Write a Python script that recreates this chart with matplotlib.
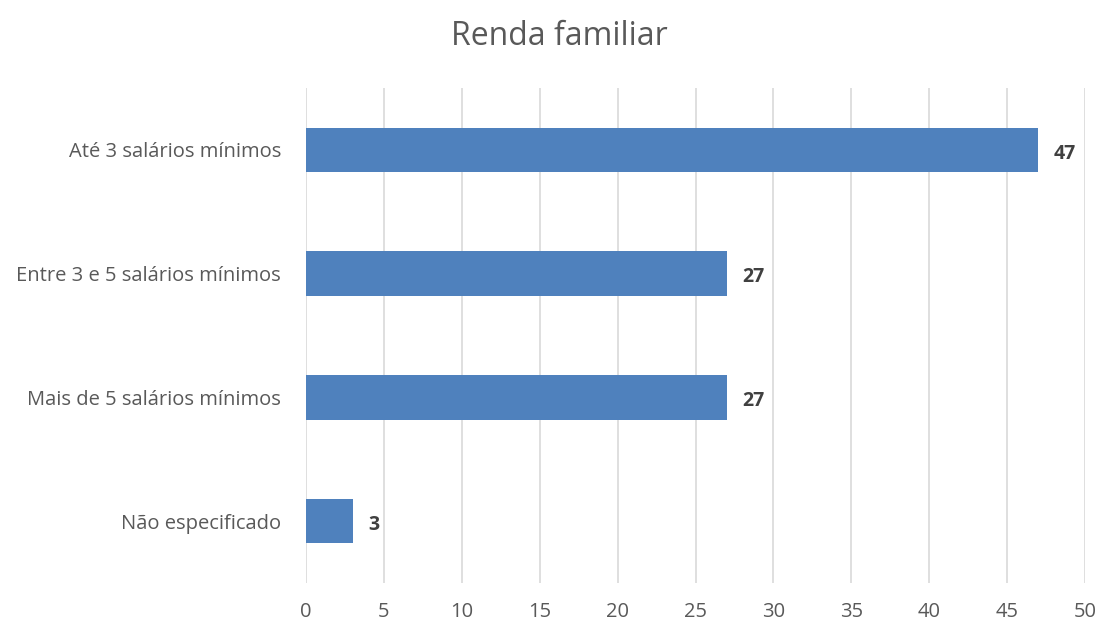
import matplotlib
matplotlib.use("Agg")
import matplotlib.pyplot as plt

categories = ["Até 3 salários mínimos", "Entre 3 e 5 salários mínimos",
              "Mais de 5 salários mínimos", "Não especificado"]
values = [47, 27, 27, 3]
xticks = [0, 5, 10, 15, 20, 25, 30, 35, 40, 45, 50]

plt.rcParams['font.family'] = ['Open Sans', 'DejaVu Sans']
txt = '#595959'

fig = plt.figure(figsize=(10.99, 6.28), dpi=100)
ax = fig.add_axes([0.2784, 0.0717, 0.7089, 0.7882])

ypos = list(range(len(categories)))
ax.barh(ypos, values, height=0.36, color='#4F81BD', zorder=3)
for y, v in zip(ypos, values):
    ax.text(v + 1.0, y + 0.03, str(v), va='center', ha='left', fontsize=14,
            fontweight='bold', color='#404040')

ax.set_yticks(ypos)
ax.set_yticklabels(categories, fontsize=14.5, color=txt)
ax.set_ylim(3.5, -0.5)
ax.set_xlim(0, 50)
ax.set_xticks(xticks)
ax.set_xticklabels([str(t) for t in xticks], fontsize=14.5, color=txt)
ax.tick_params(length=0)
ax.tick_params(axis='x', pad=14)
ax.tick_params(axis='y', pad=18)
ax.grid(axis='x', color='#D9D9D9', linewidth=1.2, zorder=0)
for s in ax.spines.values():
    s.set_visible(False)

fig.suptitle("Renda familiar", x=0.509, y=0.968, fontsize=23, color=txt)
fig.savefig("out.png", dpi=100)
